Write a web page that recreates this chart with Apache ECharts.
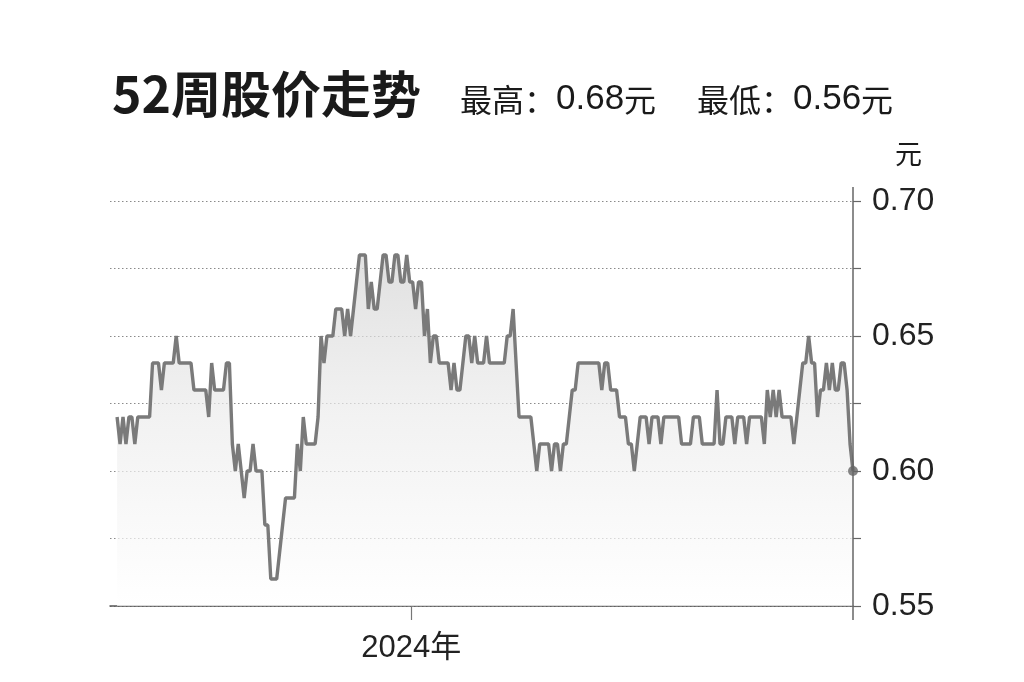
<!DOCTYPE html>
<html>
<head>
<meta charset="utf-8">
<script src="https://cdn.jsdelivr.net/npm/echarts@6/dist/echarts.min.js"></script>
<style>
html,body{margin:0;padding:0;background:#fff;}
#main{width:1024px;height:682px;}
</style>
</head>
<body>
<div id="main"></div>
<script>
// ---- data ----
const titleText = '52周股价走势';
const highText = ['最高：', '0.68', '元'];
const lowText = ['最低：', '0.56', '元'];
const unitText = '元';
const prices = [
  0.62,0.61,0.62,0.61,0.62,0.62,0.61,0.62,0.62,0.62,
  0.62,0.62,0.64,0.64,0.64,0.63,0.64,0.64,0.64,0.64,
  0.65,0.64,0.64,0.64,0.64,0.64,0.63,0.63,0.63,0.63,
  0.63,0.62,0.64,0.63,0.63,0.63,0.63,0.64,0.64,0.61,
  0.60,0.61,0.60,0.59,0.60,0.60,0.61,0.60,0.60,0.60,
  0.58,0.58,0.56,0.56,0.56,0.57,0.58,0.59,0.59,0.59,
  0.59,0.61,0.60,0.62,0.61,0.61,0.61,0.61,0.62,0.65,
  0.64,0.65,0.65,0.65,0.66,0.66,0.66,0.65,0.66,0.65,
  0.66,0.67,0.68,0.68,0.68,0.66,0.67,0.66,0.66,0.67,
  0.68,0.68,0.67,0.67,0.68,0.68,0.67,0.67,0.68,0.67,
  0.67,0.66,0.67,0.67,0.65,0.66,0.64,0.65,0.65,0.64,
  0.64,0.64,0.64,0.63,0.64,0.63,0.63,0.64,0.65,0.65,
  0.64,0.65,0.64,0.64,0.64,0.65,0.64,0.64,0.64,0.64,
  0.64,0.64,0.65,0.65,0.66,0.64,0.62,0.62,0.62,0.62,
  0.62,0.61,0.60,0.61,0.61,0.61,0.61,0.60,0.61,0.61,
  0.60,0.61,0.61,0.62,0.63,0.63,0.64,0.64,0.64,0.64,
  0.64,0.64,0.64,0.64,0.63,0.64,0.64,0.63,0.63,0.63,
  0.62,0.62,0.62,0.61,0.61,0.60,0.61,0.62,0.62,0.62,
  0.61,0.62,0.62,0.62,0.61,0.62,0.62,0.62,0.62,0.62,
  0.62,0.61,0.61,0.61,0.61,0.62,0.62,0.62,0.61,0.61,
  0.61,0.61,0.61,0.63,0.61,0.61,0.62,0.62,0.62,0.61,
  0.62,0.62,0.62,0.61,0.62,0.62,0.62,0.62,0.62,0.61,
  0.63,0.62,0.63,0.62,0.63,0.62,0.62,0.62,0.62,0.61,
  0.62,0.63,0.64,0.64,0.65,0.64,0.64,0.62,0.63,0.63,
  0.64,0.63,0.64,0.63,0.63,0.64,0.64,0.63,0.61,0.60
];
const xTickValues = [99.5];
const xTickLabels = ['2024年'];
const yMin = 0.55, yMax = 0.70, yStep = 0.025;
const yLabelValues = [0.55, 0.60, 0.65, 0.70];

// ---- chart ----
const N = prices.length;
const lineData = prices.map((v, i) => [i, v]);
const chart = echarts.init(document.getElementById('main'), null, {renderer: 'canvas'});
const cjk = '"Noto Sans CJK SC", sans-serif';
const latin = '"Liberation Sans", "Noto Sans CJK SC", sans-serif';
const richStyle = {
  c: {fontSize: 32, fontWeight: 'normal', color: '#1a1a1a', fontFamily: cjk},
  n: {fontSize: 35, fontWeight: 'normal', color: '#1a1a1a', fontFamily: latin}
};

const option = {
  backgroundColor: '#fff',
  animation: false,
  title: [
    {text: titleText, left: 107, top: 64,
     textStyle: {fontSize: 50, fontWeight: 'bold', color: '#1a1a1a', fontFamily: cjk}},
    {text: '{c|' + highText[0] + '}{n|' + highText[1] + '}{c|' + highText[2] + '}', left: 455, top: 77,
     textStyle: {fontWeight: 'normal', rich: richStyle}},
    {text: '{c|' + lowText[0] + '}{n|' + lowText[1] + '}{c|' + lowText[2] + '}', left: 692, top: 77,
     textStyle: {fontWeight: 'normal', rich: richStyle}},
    {text: unitText, left: 890, top: 135,
     textStyle: {fontSize: 27, fontWeight: 'normal', color: '#1a1a1a', fontFamily: cjk}}
  ],
  grid: {left: 110, right: 171, top: 201, bottom: 76},
  xAxis: {
    type: 'value', min: -2.4, max: N - 1,
    axisLine: {show: true, onZero: false, lineStyle: {color: '#555', width: 1.5}},
    axisTick: {show: true, customValues: xTickValues, length: 14, lineStyle: {color: '#777', width: 1.2}},
    axisLabel: {show: true, customValues: xTickValues, margin: 27, fontSize: 31, color: '#222', fontFamily: latin,
      formatter: v => { const k = xTickValues.indexOf(v); return k >= 0 ? xTickLabels[k] : ''; }},
    splitLine: {show: false}
  },
  yAxis: {
    type: 'value', position: 'right', min: yMin, max: yMax, interval: yStep,
    axisLine: {show: false, onZero: false},
    axisTick: {show: true, length: 8, lineStyle: {color: '#666', width: 1.2}},
    axisLabel: {margin: 19, fontSize: 32, color: '#222', fontFamily: latin,
      formatter: v => yLabelValues.some(t => Math.abs(t - v) < 1e-6) ? v.toFixed(2) : ''},
    splitLine: {show: true, lineStyle: {type: [1.5, 2.5], color: '#8a8a8a', width: 1}}
  },
  series: [
    {type: 'line', data: lineData, showSymbol: false, symbol: 'none',
     lineStyle: {color: '#7a7a7a', width: 3.4, join: 'bevel'},
     areaStyle: {color: new echarts.graphic.LinearGradient(0, 0, 0, 1, [
       {offset: 0, color: '#d4d4d4'}, {offset: 0.45, color: '#ececec'}, {offset: 1, color: '#ffffff'}])},
     z: 3},
    {type: 'scatter', data: [lineData[N - 1]], symbol: 'circle', symbolSize: 10,
     itemStyle: {color: '#666'}, z: 5}
  ]
};
chart.setOption(option);

// vertical axis line on right, extended a bit beyond the plot like the reference
const pTop = chart.convertToPixel({gridIndex: 0}, [N - 1, yMax]);
const pBot = chart.convertToPixel({gridIndex: 0}, [N - 1, yMin]);
chart.setOption({
  graphic: [{type: 'line', shape: {x1: pTop[0], y1: pTop[1] - 14, x2: pBot[0], y2: pBot[1] + 14},
    style: {stroke: '#666', lineWidth: 1.5}, z: 10}]
});
</script>
</body>
</html>
